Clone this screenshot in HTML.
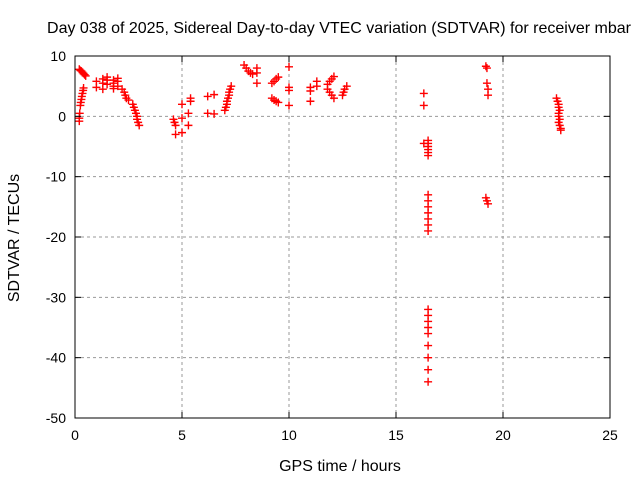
<!DOCTYPE html>
<html><head><meta charset="utf-8"><style>
body{margin:0;background:#fff}
svg text{font-family:"Liberation Sans",sans-serif;font-size:14px;fill:#000}
svg text.big{font-size:16px}
</style></head><body>
<svg id="chart" width="640" height="480" xmlns="http://www.w3.org/2000/svg">
<rect width="640" height="480" fill="#fff"/>
<g id="grid"></g><g id="pts"></g><g id="axes"></g>
<text class="big" x="339" y="33" text-anchor="middle">Day 038 of 2025, Sidereal Day-to-day VTEC variation (SDTVAR) for receiver mbar</text>
<text class="big" x="340" y="471" text-anchor="middle">GPS time / hours</text>
<text class="big" transform="translate(19,238) rotate(-90)" text-anchor="middle">SDTVAR / TECUs</text>
</svg>
<script>
const xTicks=[0,5,10,15,20,25];
const yTicks=[10,0,-10,-20,-30,-40,-50];
const times=[0.2,0.25,0.3,0.35,0.4,0.45,0.5,
0.2,0.2,0.22,0.25,0.27,0.3,0.32,0.35,0.38,0.4,
1.0,1.0,1.3,1.3,1.3,1.5,1.5,1.5,1.8,1.8,1.8,1.8,2.0,2.0,2.0,
2.2,2.3,2.35,2.4,2.5,
2.7,2.75,2.8,2.85,2.9,2.9,2.95,3.0,
4.6,4.65,4.7,4.7,5.0,5.0,5.0,5.3,5.3,5.4,5.4,
6.2,6.2,6.5,6.5,
7.0,7.05,7.1,7.1,7.15,7.2,7.2,7.25,7.3,
7.9,8.0,8.1,8.2,8.3,8.5,8.5,8.5,
9.2,9.3,9.4,9.5,9.2,9.3,9.4,9.5,
10.0,10.0,10.0,10.0,11.0,11.0,11.0,11.3,11.3,
11.8,11.9,12.0,12.1,11.8,11.9,12.0,12.1,12.5,12.55,12.6,12.7,
16.3,16.3,16.3,16.5,16.5,16.5,16.5,16.5,16.5,16.5,16.5,16.5,16.5,16.5,16.5,16.5,
16.5,16.5,16.5,16.5,16.5,16.5,16.5,16.5,16.5,
19.2,19.25,19.25,19.3,19.3,19.2,19.25,19.3,
22.5,22.55,22.6,22.6,22.65,22.6,22.6,22.65,22.6,22.65,22.7,22.7];
const values=[7.8,7.6,7.5,7.3,7.1,6.9,6.7,
-0.8,-0.3,0.5,1.8,2.3,2.8,3.3,3.8,4.3,4.7,
5.8,4.8,6.2,5.5,4.5,6.5,6.0,5.3,6.0,5.5,5.0,4.6,6.3,5.8,5.0,
4.5,4.0,3.5,3.0,2.7,
2.0,1.5,1.0,0.5,0,-0.5,-1.0,-1.5,
-0.5,-1.0,-1.5,-3.0,-2.7,-0.3,2.0,0.5,-1.5,2.5,3.0,
3.3,0.5,3.6,0.4,
1.0,1.5,2.0,2.5,3.0,3.5,4.0,4.5,5.0,
8.5,8.0,7.5,7.2,7.0,8.0,7.2,5.5,
5.5,5.8,6.2,6.5,3.0,2.7,2.5,2.3,
8.2,4.8,4.3,1.8,4.8,4.2,2.5,5.8,5.0,
5.3,5.8,6.2,6.6,4.5,4.0,3.5,3.0,3.5,4.0,4.5,5.0,
3.8,1.8,-4.5,-4,-4.5,-5,-5.5,-6,-6.5,-13,-14,-15,-16,-17,-18,-19,
-32,-33,-34,-35,-36,-38,-40,-42,-44,
8.3,8.0,5.5,4.5,3.5,-13.5,-14,-14.5,
3,2.5,2,1.5,1,0.5,0,-0.5,-1,-1.5,-2,-2.3];
const X0=75,X1=610,Y0=418,Y1=56;
const xs=t=>X0+(t-0)/(25-0)*(X1-X0);
const ys=v=>Y0-(v+50)/60*(Y0-Y1);
const NS="http://www.w3.org/2000/svg";
function mk(tag,attrs,parent){const e=document.createElementNS(NS,tag);for(const k in attrs)e.setAttribute(k,attrs[k]);parent.appendChild(e);return e;}
const grid=document.getElementById('grid'),axes=document.getElementById('axes'),pts=document.getElementById('pts');
xTicks.forEach(t=>{const x=xs(t);
 if(t>0&&t<25){const g=mk('line',{x1:x,x2:x,y1:Y1,y2:Y0,stroke:'#999','stroke-dasharray':'3,3'},grid);}
 mk('line',{x1:x,x2:x,y1:Y0,y2:Y0-6,stroke:'#000'},axes);mk('line',{x1:x,x2:x,y1:Y1,y2:Y1+6,stroke:'#000'},axes);
 const l=mk('text',{x:x,y:Y0+22,'text-anchor':'middle'},axes);l.textContent=t;
 });
yTicks.forEach(v=>{const y=ys(v);
 if(v<10&&v>-50){const g=mk('line',{x1:X0,x2:X1,y1:y,y2:y,stroke:'#999','stroke-dasharray':'3,3'},grid);}
 mk('line',{x1:X0,x2:X0+6,y1:y,y2:y,stroke:'#000'},axes);mk('line',{x1:X1,x2:X1-6,y1:y,y2:y,stroke:'#000'},axes);
 const l=mk('text',{x:X0-9,y:y+5,'text-anchor':'end'},axes);l.textContent=v;
 });
const fr=mk('rect',{x:X0,y:Y1,width:X1-X0,height:Y0-Y1,fill:'none',stroke:'#000'},axes);

times.forEach((t,i)=>{const x=xs(t),y=ys(values[i]);
 const p=mk('path',{d:`M${x-4},${y}h8M${x},${y-4}v8`,stroke:'#f00','stroke-width':1.4},pts);
 });
</script>
</body></html>
